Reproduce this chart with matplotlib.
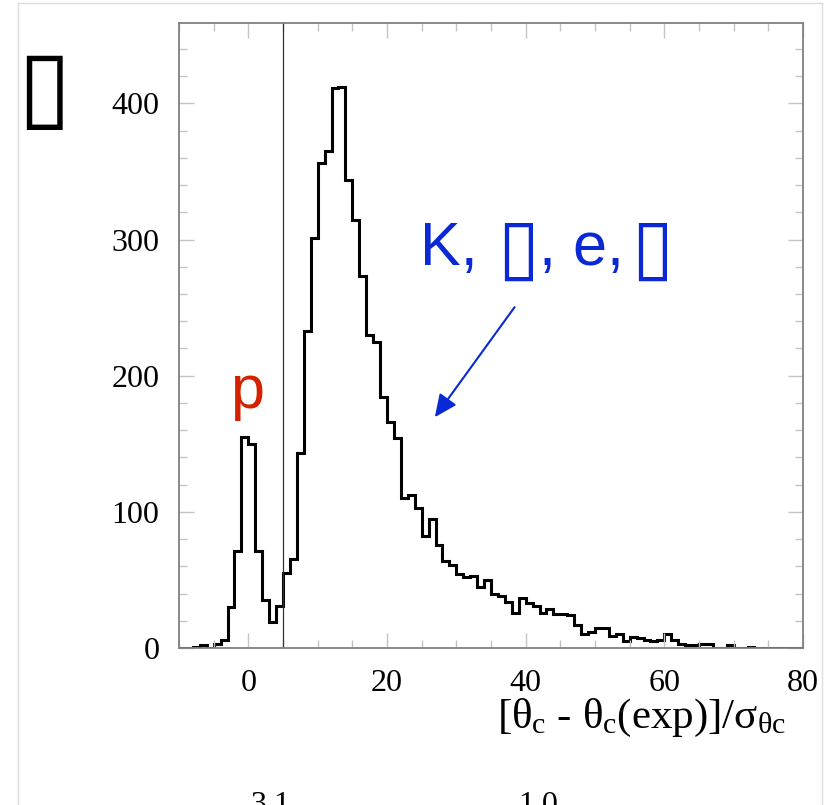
import numpy as np
import matplotlib.pyplot as plt
from matplotlib.lines import Line2D

# histogram: 1-unit bins from -10 to 80
bin_edges = np.arange(-10, 81)
counts = [0, 0, 1, 2, 0, 3, 6, 30, 71, 155,
          150, 71, 35, 19, 31, 55, 65, 143, 233, 301,
          356, 365, 411, 412, 344, 314, 273, 230, 225, 184,
          166, 154, 110, 112, 103, 82, 95, 76, 64, 61,
          54, 52, 53, 45, 50, 40, 38, 34, 26, 37,
          33, 31, 26, 29, 25, 25, 24, 17, 10, 12,
          15, 15, 9, 10, 5, 8, 7, 6, 5, 6,
          10, 6, 3, 2, 2, 3, 3, 0, 0, 2,
          0, 0, 1, 0, 0, 0, 0, 0, 0, 0]

cut_x = 5
x_ticks = [0, 20, 40, 60, 80]
y_ticks = [0, 100, 200, 300, 400]

red = '#d42200'
blue = '#0a28d4'
serif = 'Liberation Serif'
box = '\u25af'

plt.rcParams['mathtext.fontset'] = 'custom'
plt.rcParams['mathtext.rm'] = serif
plt.rcParams['mathtext.it'] = serif
plt.rcParams['mathtext.bf'] = serif

fig = plt.figure(figsize=(8.29, 8.05), dpi=100)
W, H = 829, 805
ax = fig.add_axes([179 / W, 1 - 648 / H, 624 / W, 625 / H])

ax.stairs(counts, bin_edges, color='black', lw=2.2)
ax.axvline(cut_x, color='#333333', lw=0.9)

ax.set_xlim(-10, 80)
ax.set_ylim(0, 459)
ax.set_xticks(x_ticks)
ax.set_yticks(y_ticks)
ax.set_xticks(np.arange(-10, 81, 5), minor=True)
ax.set_yticks(np.arange(0, 460, 20), minor=True)
ax.tick_params(which='both', direction='in', top=True, right=True,
               color='#c4c4c4', width=1, labelsize=23)
ax.tick_params(axis='x', which='major', pad=15)
ax.tick_params(axis='y', which='major', pad=14)
ax.tick_params(which='major', length=11)
ax.tick_params(which='minor', length=6)
for lab in ax.get_xticklabels() + ax.get_yticklabels():
    lab.set_fontfamily(serif)
for sp in ax.spines.values():
    sp.set_color('#808080')
    sp.set_linewidth(1.3)

# annotations
ax.text(-0.2, 176, 'p', color=red, fontsize=44, family='Liberation Sans',
        ha='center', va='baseline')

# "K, ▯, e, ▯" put together from pieces so the boxes can be larger
lab_y = 281
sans = dict(color=blue, fontsize=44, family='Liberation Sans', va='baseline')
boxp = dict(color=blue, fontsize=55, family='DejaVu Sans',
            va='baseline', ha='center')
ax.text(24.7, lab_y, 'K,', ha='left', **sans)
ax.text(38.9, lab_y - 5, box, **boxp)
ax.text(41.9, lab_y, ', e,', ha='left', **sans)
ax.text(58.3, lab_y - 5, box, **boxp)

ax.annotate('', xy=(26.9, 169.5), xytext=(38.4, 250.3),
            arrowprops=dict(arrowstyle='-|>,head_length=0.55,head_width=0.25',
                            color=blue, lw=1.5, mutation_scale=25,
                            shrinkA=0, shrinkB=0))

fig.text(786 / W, 1 - 728 / H,
         r'$[\theta_c\text{ - }\theta_c(exp)]/\sigma_{\theta c}$',
         fontsize=31, ha='right', va='baseline')

# big glyph box top left
fig.text(44 / W, 1 - 92 / H, box, fontsize=70, fontweight='bold',
         family='DejaVu Sans', ha='center', va='center')

# cut-off text at bottom
fig.text(250 / W, 1 - 813 / H, '3.1', fontsize=23, family=serif,
         ha='left', va='baseline')
fig.text(518 / W, 1 - 813 / H, '1.0', fontsize=23, family=serif,
         ha='left', va='baseline')

# light page frame
frame_c = '#dcdcdc'
fig.add_artist(Line2D([18 / W, 18 / W], [1 - 3 / H, 0], color=frame_c, lw=1))
fig.add_artist(Line2D([18 / W, 822 / W], [1 - 3 / H, 1 - 3 / H], color=frame_c, lw=1))
fig.add_artist(Line2D([822 / W, 822 / W], [1 - 3 / H, 0], color=frame_c, lw=1))

fig.savefig('out.png', dpi=100)
